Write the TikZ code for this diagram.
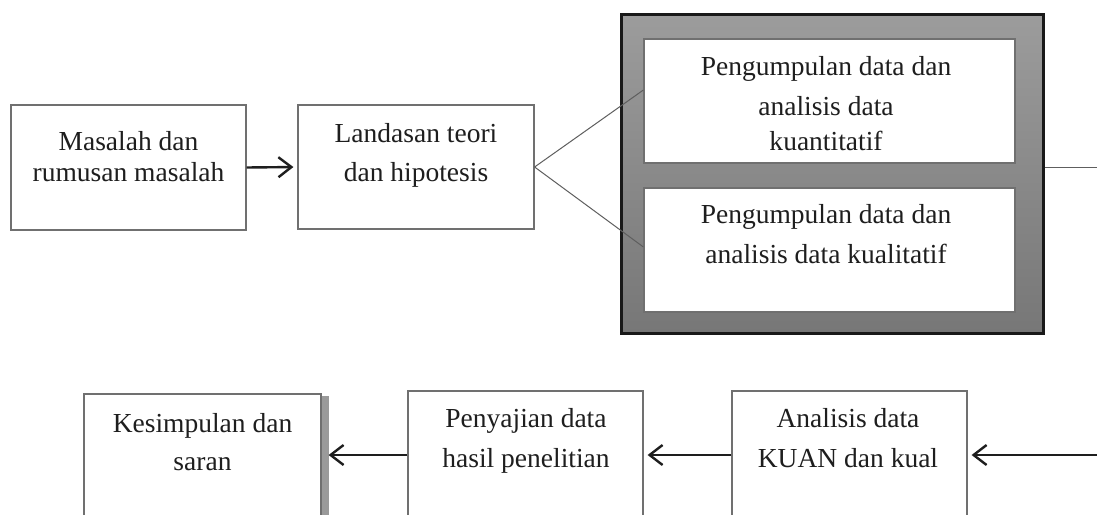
\documentclass[tikz,border=0pt]{standalone}
\usepackage{fontspec}
\setmainfont{Liberation Serif}
\usetikzlibrary{arrows.meta,calc}
\definecolor{ink}{HTML}{1E1E1E}
\definecolor{edge}{HTML}{707070}
\definecolor{thinline}{HTML}{5E5E5E}
\definecolor{paneltop}{HTML}{9C9C9C}
\definecolor{panelbot}{HTML}{777777}
\definecolor{shadowgray}{HTML}{9A9A9A}
\begin{document}
\begin{tikzpicture}[x=1pt,y=-1pt,
  box/.style={draw=edge, line width=1.2pt, fill=white, inner sep=0pt, rectangle},
  panel/.style={draw=black!90, line width=3pt, rectangle, inner sep=0pt,
    top color=paneltop, bottom color=panelbot},
  txt/.style={font=\fontsize{27.5}{30}\selectfont, text=ink, anchor=base, inner sep=0pt},
  flow/.style={draw=ink, line width=2.4pt, shorten >=4pt,
    -{Straight Barb[length=13pt,width=20pt,line width=2.4pt]}},
  link/.style={draw=thinline, line width=1pt},
]
\clip (0,0) rectangle (1097,514);
\fill[white] (0,0) rectangle (1097,514);

% top row
\node[box, minimum width=235pt, minimum height=125pt] (mas) at (128.5,167.5) {};
\node[box, minimum width=236pt, minimum height=124pt] (lan) at (416,167) {};

% grouped data collection panel
\node[panel, minimum width=422pt, minimum height=319pt] (grp) at (832,173.5) {};
\node[box, minimum width=371pt, minimum height=124pt] (kuan) at (829.5,101) {};
\node[box, minimum width=371pt, minimum height=124pt] (kual) at (829.5,250) {};

% bottom row
\node[box, minimum width=237pt, minimum height=122pt] (kes) at (202.5,455) {};
\fill[shadowgray] ($(kes.north east)+(0.6,3)$) rectangle ($(kes.south east)+(7,0)$);
\node[box, minimum width=235pt, minimum height=128pt] (pen) at (525.5,455) {};
\node[box, minimum width=235pt, minimum height=128pt] (ana) at (849.5,455) {};

% labels
\node[txt] (mas1) at (128.5,150) {Masalah dan};
\node[txt] (mas2) at (128.5,181) {rumusan masalah};
\node[txt] (lan1) at (416,142) {Landasan teori};
\node[txt] (lan2) at (416,181) {dan hipotesis};
\node[txt] (kuan1) at (826,75) {Pengumpulan data dan};
\node[txt] (kuan2) at (826,115) {analisis data};
\node[txt] (kuan3) at (826,150) {kuantitatif};
\node[txt] (kual1) at (826,223) {Pengumpulan data dan};
\node[txt] (kual2) at (826,263) {analisis data kualitatif};
\node[txt] (kes1) at (202.5,432) {Kesimpulan dan};
\node[txt] (kes2) at (202.5,470) {saran};
\node[txt] (pen1) at (526,427) {Penyajian data};
\node[txt] (pen2) at (526,467) {hasil penelitian};
\node[txt] (ana1) at (848,427) {Analisis data};
\node[txt] (ana2) at (848,467) {KUAN dan kual};

% connectors
\draw[flow] (mas.east) -- (lan.west);
\draw[link] (lan.east) -- ($(kuan.west)+(0,-11)$);
\draw[link] (lan.east) -- ($(kual.west)+(0,-3)$);
\coordinate (outR) at (1100,167);
\draw[link] (grp.east |- outR) -- (outR);
\coordinate (inR) at (1100,455);
\draw[flow] (inR) -- (ana.east);
\draw[flow] (ana.west) -- (pen.east);
\draw[flow, shorten >=0pt] (pen.west) -- ($(kes.east)+(7,0)$);
\end{tikzpicture}
\end{document}
